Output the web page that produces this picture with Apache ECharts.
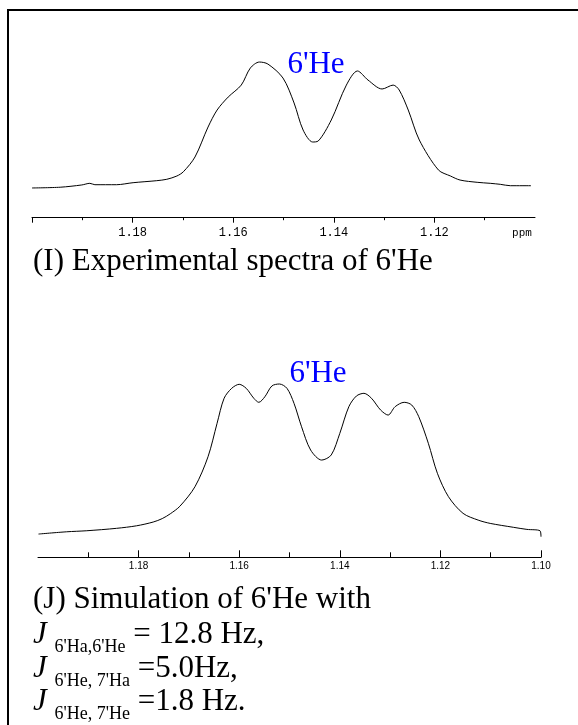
<!DOCTYPE html>
<html>
<head>
<meta charset="utf-8">
<script src="https://cdn.jsdelivr.net/npm/echarts@6/dist/echarts.min.js"></script>
<style>
  html, body { margin: 0; padding: 0; background: #fff; }
  #chart { width: 578px; height: 725px; }
</style>
</head>
<body>
<div id="chart"></div>
<script>
// Experimental 1H trace of 6'He (chemical shift in ppm, relative intensity)
const expPpm = [1.2000, 1.1944, 1.1901, 1.1885, 1.1875, 1.1832, 1.1799, 1.1752, 1.1732, 1.1712,
  1.1699, 1.1676, 1.1650, 1.1632, 1.1610, 1.1584, 1.1566, 1.1548, 1.1531, 1.1501,
  1.1479, 1.1461, 1.1442, 1.1431, 1.1405, 1.1375, 1.1353, 1.1332, 1.1304, 1.1282,
  1.1270, 1.1252, 1.1230, 1.1192, 1.1168, 1.1149, 1.1115, 1.1089, 1.1069, 1.1049, 1.1008];
const expInt = [0, 0.6, 2.4, 3.7, 2.6, 2.6, 4.2, 5.8, 6.9, 9.5,
  12.9, 24.6, 48.4, 61.9, 72.2, 81.7, 95.2, 100, 98.4, 87.3,
  67.5, 46.0, 36.5, 37.3, 54.0, 81.7, 92.9, 85.7, 78.6, 81.7,
  77.8, 61.9, 38.1, 14.3, 9.5, 6.3, 4.5, 3.7, 2.9, 1.8, 1.8];

// Simulated multiplet of 6'He
const simPpm = [1.1999, 1.1943, 1.1903, 1.1844, 1.1804, 1.1771, 1.1753, 1.1737, 1.1718, 1.1688,
  1.1662, 1.1644, 1.1630, 1.1615, 1.1600, 1.1586, 1.1571, 1.1561, 1.1549, 1.1535,
  1.1520, 1.1505, 1.1491, 1.1476, 1.1458, 1.1436, 1.1417, 1.1400, 1.1382, 1.1367,
  1.1352, 1.1337, 1.1319, 1.1304, 1.1290, 1.1272, 1.1257, 1.1243, 1.1224, 1.1206,
  1.1184, 1.1155, 1.1125, 1.1101, 1.1055, 1.1028, 1.1002, 1.1000];
const simInt = [0, 1.5, 2.2, 3.8, 5.5, 8.0, 10.3, 13.5, 18.5, 31.5,
  51.5, 73.8, 90.5, 97.1, 99.8, 97.1, 90.5, 87.8, 91.5, 98.7,
  100, 97.1, 87.1, 71.5, 56.0, 49.3, 52.7, 67.1, 84.9, 92.0,
  93.8, 90.5, 82.7, 79.3, 84.9, 87.8, 86.0, 78.2, 60.5, 40.5,
  24.9, 13.8, 9.3, 7.1, 4.5, 3.1, 2.2, -1.8];

// Axis ticks and labels
const expMajorTicks = [1.20, 1.18, 1.16, 1.14, 1.12];
const expMinorTicks = [1.19, 1.17, 1.15, 1.13, 1.11];
const expTickLabels = [1.18, 1.16, 1.14, 1.12];
const simMajorTicks = [1.18, 1.16, 1.14, 1.12, 1.10];
const simMinorTicks = [1.19, 1.17, 1.15, 1.13, 1.11];
const simTickLabels = [1.18, 1.16, 1.14, 1.12, 1.10];
const unitLabel = 'ppm';
const peakLabel = "6'He";

const SERIF = "'Liberation Serif', 'Times New Roman', serif";
const MONO = "'Liberation Mono', 'Courier New', monospace";
const SANS = "'Liberation Sans', Arial, sans-serif";

function pairs(xs, ys) { return xs.map((x, i) => [x, ys[i]]); }

function ppmAxis(gridIndex, ticks, labels, tick, label) {
  return {
    type: 'value', gridIndex, min: 1.10, max: 1.20, inverse: true, position: 'bottom',
    axisLine: { show: !!labels, onZero: false, lineStyle: { color: '#000', width: 1 } },
    axisTick: { show: true, customValues: ticks, length: tick.length, inside: tick.inside,
      lineStyle: { color: '#000', width: 1 } },
    axisLabel: labels ? Object.assign({ show: true, customValues: labels, color: '#000',
      formatter: v => v.toFixed(2) }, label) : { show: false },
    splitLine: { show: false }
  };
}

const chart = echarts.init(document.getElementById('chart'), null, { renderer: 'canvas' });

const lineStyle = { color: '#000', width: 1 };
const CAPTION = 31;
const SUB = 18;

chart.setOption({
  backgroundColor: '#fff',
  animation: false,
  grid: [
    { left: 32, width: 503, top: 40, height: 177.7 },
    { left: 38, width: 503, top: 360, height: 197.3 }
  ],
  xAxis: [
    ppmAxis(0, expMajorTicks, expTickLabels, { length: 5, inside: false },
      { fontFamily: MONO, fontSize: 12, margin: 9 }),
    ppmAxis(0, expMinorTicks, null, { length: 2.5, inside: false }),
    ppmAxis(1, simMajorTicks, simTickLabels, { length: 7, inside: true },
      { fontFamily: SANS, fontSize: 10, margin: 4 }),
    ppmAxis(1, simMinorTicks, null, { length: 5, inside: true })
  ],
  yAxis: [
    { type: 'value', gridIndex: 0, min: -23.6, max: 117.5, show: false },
    { type: 'value', gridIndex: 1, min: -15.5, max: 116, show: false }
  ],
  series: [
    { type: 'line', xAxisIndex: 0, yAxisIndex: 0, data: pairs(expPpm, expInt),
      showSymbol: false, smooth: 0.3, clip: false, lineStyle },
    { type: 'line', xAxisIndex: 2, yAxisIndex: 1, data: pairs(simPpm, simInt),
      showSymbol: false, smooth: 0.3, clip: false, lineStyle }
  ],
  graphic: [
    // frame edges
    { type: 'line', shape: { x1: 7, y1: 10, x2: 578, y2: 10 }, style: { stroke: '#000', lineWidth: 2 } },
    { type: 'line', shape: { x1: 8, y1: 9, x2: 8, y2: 725 }, style: { stroke: '#000', lineWidth: 2 } },
    // peak annotations
    { type: 'text', x: 316, y: 65, style: { text: peakLabel, fontFamily: SERIF, fontSize: CAPTION,
      fill: '#0000ff', align: 'center', verticalAlign: 'middle' } },
    { type: 'text', x: 318, y: 374, style: { text: peakLabel, fontFamily: SERIF, fontSize: CAPTION,
      fill: '#0000ff', align: 'center', verticalAlign: 'middle' } },
    // unit
    { type: 'text', x: 522, y: 233, style: { text: unitLabel, fontFamily: MONO, fontSize: 11,
      fill: '#000', align: 'center', verticalAlign: 'middle' } },
    // captions
    { type: 'text', x: 33, y: 262, style: { text: "(I) Experimental spectra of 6'He",
      fontFamily: SERIF, fontSize: CAPTION, fill: '#000', align: 'left', verticalAlign: 'middle' } },
    { type: 'text', x: 33, y: 600, style: { text: "(J) Simulation of 6'He with",
      fontFamily: SERIF, fontSize: CAPTION, fill: '#000', align: 'left', verticalAlign: 'middle' } },
    ...[
      ["6'Ha,6'He", ' = 12.8 Hz,'],
      ["6'He, 7'Ha", ' =5.0Hz,'],
      ["6'He, 7'He", ' =1.8 Hz.']
    ].map((parts, i) => ({
      type: 'text', x: 33, y: 638 + i * 33.5,
      style: {
        text: '{j|J }{s|' + parts[0] + '}{m|' + parts[1] + '}',
        fontFamily: SERIF, fontSize: CAPTION, fill: '#000', align: 'left', verticalAlign: 'middle',
        rich: {
          j: { fontFamily: SERIF, fontSize: CAPTION, fontStyle: 'italic', fill: '#000',
            verticalAlign: 'bottom', padding: [0, 0, 6, 0] },
          s: { fontFamily: SERIF, fontSize: SUB, fill: '#000', verticalAlign: 'bottom' },
          m: { fontFamily: SERIF, fontSize: CAPTION, fill: '#000', verticalAlign: 'bottom',
            padding: [0, 0, 6, 0] }
        }
      }
    }))
  ]
});
</script>
</body>
</html>
